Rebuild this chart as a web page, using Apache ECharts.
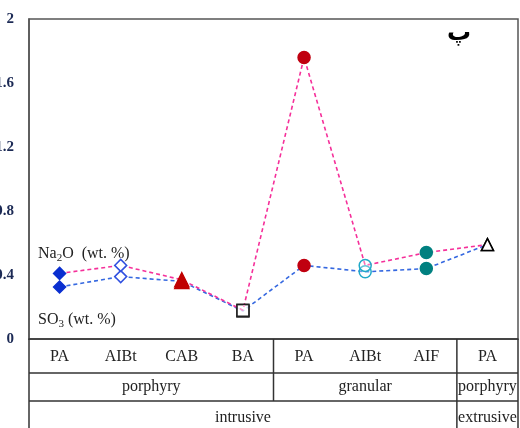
<!DOCTYPE html>
<html><head><meta charset="utf-8">
<script src="https://cdn.jsdelivr.net/npm/echarts@6/dist/echarts.min.js"></script>
<style>html,body{margin:0;padding:0;background:#fff}#c{width:520px;height:428px}</style>
</head><body><div id="c"></div>
<script>
// ---- data ----
var categories = ['PA', 'AIBt', 'CAB', 'BA', 'PA', 'AIBt', 'AIF', 'PA'];
var na2o = [0.41, 0.46, 0.37, 0.18, 1.76, 0.46, 0.54, 0.59];
var so3  = [0.325, 0.39, 0.36, 0.175, 0.46, 0.42, 0.44, 0.59];
var yTicks = [0, 0.4, 0.8, 1.2, 1.6, 2];
var textureGroups = [{name: 'porphyry', from: 0, to: 3}, {name: 'granular', from: 4, to: 6}, {name: 'porphyry', from: 7, to: 7}];
var settingGroups = [{name: 'intrusive', from: 0, to: 6}, {name: 'extrusive', from: 7, to: 7}];
var seriesNames = ['Na₂O (wt. %)', 'SO₃ (wt. %)'];

// ---- marker styles per category ----
var markers = [
  {symbol: 'diamond', size: 12, color: '#0a2fd0', border: '#0a2fd0'},
  {symbol: 'diamond', size: 12, color: '#ffffff', border: '#3050e0'},
  {symbol: 'triangle', size: 14, color: '#c00000', border: '#c00000'},
  {symbol: 'rect', size: 12, color: 'rgba(255,255,255,0.5)', border: '#222'},
  {symbol: 'circle', size: 12, color: '#c00010', border: '#c00010'},
  {symbol: 'circle', size: 12, color: 'rgba(255,255,255,0.3)', border: '#20a8c8'},
  {symbol: 'circle', size: 12, color: '#008080', border: '#008080'},
  {symbol: 'triangle', size: 12, color: '#ffffff', border: '#000000'}
];
function build(vals) {
  return vals.map(function (v, i) {
    var m = markers[i];
    return {value: v, symbol: m.symbol, symbolSize: m.size,
      itemStyle: {color: m.color, borderColor: m.border, borderWidth: 1.5}};
  });
}

var chart = echarts.init(document.getElementById('c'));
var FONT = '"Liberation Serif", "Times New Roman", serif';
chart.setOption({
  animation: false,
  grid: {left: 29, right: 2, top: 19, bottom: 89, containLabel: false, outerBoundsMode: 'none',
    show: true, borderColor: '#555', borderWidth: 1.5, backgroundColor: '#fff'},
  xAxis: {
    type: 'category', data: categories, boundaryGap: true,
    axisLine: {lineStyle: {color: '#333', width: 1.5}},
    axisTick: {show: false},
    axisLabel: {fontFamily: FONT, fontSize: 16, color: '#222', margin: 10, interval: 0}
  },
  yAxis: {
    type: 'value', min: 0, max: 2, interval: 0.4,
    axisLine: {show: true, lineStyle: {color: '#555', width: 1.5}},
    axisTick: {show: false},
    splitLine: {show: false},
    axisLabel: {fontFamily: FONT, fontSize: 15, fontWeight: 'bold', color: '#1c2a55', margin: 15,
      formatter: function (v) { return String(Math.round(v * 10) / 10); }}
  },
  series: [
    {name: seriesNames[0], type: 'line', data: build(na2o), z: 3,
      lineStyle: {color: '#f5309a', width: 1.6, type: [4, 3]}},
    {name: seriesNames[1], type: 'line', data: build(so3), z: 2,
      lineStyle: {color: '#3568e0', width: 1.6, type: [4, 3]}}
  ]
});

// ---- table below the axis & labels ----
function px(idx) { return chart.convertToPixel({xAxisIndex: 0}, idx); }
var half = (px(1) - px(0)) / 2;
var x0 = px(0) - half, xEnd = px(categories.length - 1) + half;
var yAxisPix = chart.convertToPixel({yAxisIndex: 0}, 0);
var row1 = yAxisPix + 34, row2 = yAxisPix + 62, row3 = 428;
var els = [];
function line(x1, y1, x2, y2) {
  els.push({type: 'line', shape: {x1: x1, y1: y1, x2: x2, y2: y2}, style: {stroke: '#333', lineWidth: 1.5}, z: 10});
}
function txt(x, y, s) {
  els.push({type: 'text', x: x, y: y, style: {text: s, fill: '#222', font: '16px ' + FONT, textAlign: 'center', textVerticalAlign: 'middle'}, z: 10});
}
line(x0, row1, xEnd, row1);
line(x0, row2, xEnd, row2);
line(x0, yAxisPix, x0, row3);
line(xEnd, yAxisPix, xEnd, row3);
textureGroups.forEach(function (g, k) {
  var a = px(g.from) - half, b = px(g.to) + half;
  if (k > 0) line(a, yAxisPix, a, row2);
  txt((a + b) / 2, (row1 + row2) / 2, g.name);
});
settingGroups.forEach(function (g, k) {
  var a = px(g.from) - half, b = px(g.to) + half;
  if (k > 0) line(a, row2, a, row3);
  txt((a + b) / 2, row2 + 17, g.name);
});
// legend-like labels
els.push({type: 'text', x: 38, y: 254, style: {text: '{n|Na}{s|2}{n|O  (wt. %)}', rich: {n: {font: '16px ' + FONT, fill: '#222'}, s: {font: '11px ' + FONT, fill: '#222', padding: [8, 0, 0, 0]}}, textVerticalAlign: 'middle'}, z: 10});
els.push({type: 'text', x: 38, y: 320, style: {text: '{n|SO}{s|3}{n| (wt. %)}', rich: {n: {font: '16px ' + FONT, fill: '#222'}, s: {font: '11px ' + FONT, fill: '#222', padding: [8, 0, 0, 0]}}, textVerticalAlign: 'middle'}, z: 10});
els.push({type: 'text', x: 459, y: 34, style: {text: 'پ', font: 'bold 24px "DejaVu Sans", sans-serif', fill: '#000', textAlign: 'center', textVerticalAlign: 'middle'}, z: 10});
chart.setOption({graphic: {elements: els}});
</script>
</body></html>
